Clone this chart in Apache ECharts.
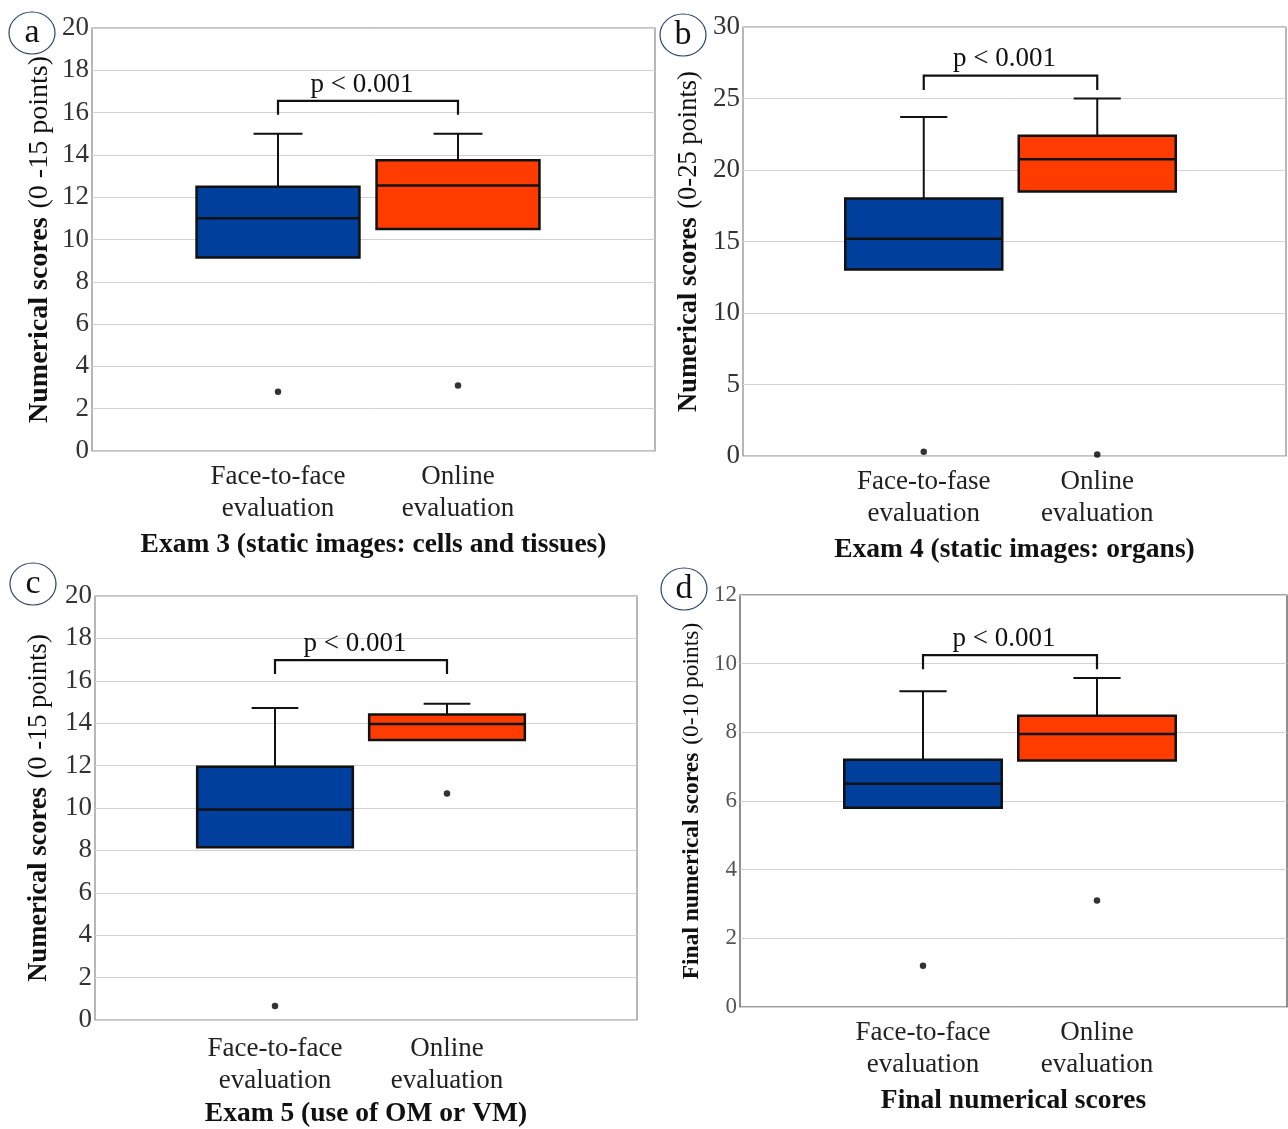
<!DOCTYPE html>
<html>
<head>
<meta charset="utf-8">
<script src="https://cdn.jsdelivr.net/npm/echarts@6/dist/echarts.min.js"></script>
<style>
html,body{margin:0;padding:0;background:#fff;}
#main{width:1288px;height:1129px;}
</style>
</head>
<body>
<div id="main"></div>
<script>
// ---------------- DATA ----------------
// Panel a – Exam 3
const a_categories = ['Face-to-face\nevaluation', 'Online\nevaluation'];
const a_q1 = [9.15, 10.5];
const a_median = [11.0, 12.55];
const a_q3 = [12.5, 13.75];
const a_upperWhisker = [15.0, 15.0];
const a_outliers = [2.8, 3.1];
const a_bracket = [15.9, 16.55];

// Panel b – Exam 4
const b_categories = ['Face-to-fase\nevaluation', 'Online\nevaluation'];
const b_q1 = [13.05, 18.5];
const b_median = [15.2, 20.75];
const b_q3 = [18.0, 22.4];
const b_upperWhisker = [23.7, 25.0];
const b_outliers = [0.3, 0.1];
const b_bracket = [25.6, 26.6];

// Panel c – Exam 5
const c_categories = ['Face-to-face\nevaluation', 'Online\nevaluation'];
const c_q1 = [8.23, 13.25];
const c_median = [10.0, 14.0];
const c_q3 = [12.0, 14.45];
const c_upperWhisker = [14.75, 14.95];
const c_outliers = [0.8, 10.75];
const c_bracket = [16.35, 17.0];

// Panel d – Final scores
const d_categories = ['Face-to-face\nevaluation', 'Online\nevaluation'];
const d_q1 = [5.8, 7.18];
const d_median = [6.5, 7.95];
const d_q3 = [7.2, 8.48];
const d_upperWhisker = [9.2, 9.58];
const d_outliers = [1.2, 3.1];
const d_bracket = [9.84, 10.25];

const pText = 'p < 0.001';
const boxColors = ['#003f9c', '#ff3c00'];

// ---------------- LAYOUT / STYLE ----------------
const FONT = '"Liberation Serif","Times New Roman",serif';

const panels = [
  { letter: 'a', cats: a_categories, q1: a_q1, med: a_median, q3: a_q3, wh: a_upperWhisker, out: a_outliers, br: a_bracket,
    yMax: 20, yInt: 2, yTitleB: 'Numerical scores', yTitleN: '(0 -15 points)', xTitle: 'Exam 3 (static images: cells and tissues)',
    frame: {left: 92, top: 28, width: 563, height: 423}, data: {left: 188, width: 360},
    border: '#888', tickSize: 27, tickColor: '#333', titleSize: 28, nameGap: 38, circle: [32, 33] },
  { letter: 'b', cats: b_categories, q1: b_q1, med: b_median, q3: b_q3, wh: b_upperWhisker, out: b_outliers, br: b_bracket,
    yMax: 30, yInt: 5, yTitleB: 'Numerical scores', yTitleN: '(0-25 points)', xTitle: 'Exam 4 (static images: organs)',
    frame: {left: 743, top: 27, width: 543, height: 429}, data: {left: 837, width: 347},
    border: '#888', tickSize: 27, tickColor: '#333', titleSize: 26.5, nameGap: 40, circle: [683, 35] },
  { letter: 'c', cats: c_categories, q1: c_q1, med: c_median, q3: c_q3, wh: c_upperWhisker, out: c_outliers, br: c_bracket,
    yMax: 20, yInt: 2, yTitleB: 'Numerical scores', yTitleN: '(0 -15 points)', xTitle: 'Exam 5 (use of OM or VM)',
    frame: {left: 95, top: 596, width: 542, height: 427}, data: {left: 189, width: 344},
    border: '#888', tickSize: 27, tickColor: '#333', titleSize: 26.5, nameGap: 42, circle: [33, 584] },
  { letter: 'd', cats: d_categories, q1: d_q1, med: d_median, q3: d_q3, wh: d_upperWhisker, out: d_outliers, br: d_bracket,
    yMax: 12, yInt: 2, yTitleB: 'Final numerical scores', yTitleN: '(0-10 points)', xTitle: 'Final numerical scores',
    frame: {left: 740, top: 595, width: 547, height: 412}, data: {left: 836, width: 348},
    border: '#444', tickSize: 23, tickColor: '#555', titleSize: 23.5, nameGap: 36, circle: [684, 589] }
];

const grid = [], xAxis = [], yAxis = [], series = [], graphic = [];

function boxRender(params, api) {
  const x = api.value(0);
  const pQ1 = api.coord([x, api.value(1)]);
  const pMed = api.coord([x, api.value(2)]);
  const pQ3 = api.coord([x, api.value(3)]);
  const pWh = api.coord([x, api.value(4)]);
  const band = api.size([1, 0])[0];
  const bw = band * 0.905, cw = bw * 0.3, cx = pMed[0];
  const ls = {stroke: '#111', lineWidth: 2};
  return {
    type: 'group',
    children: [
      {type: 'line', shape: {x1: cx, y1: pQ3[1], x2: cx, y2: pWh[1]}, style: ls},
      {type: 'line', shape: {x1: cx - cw / 2, y1: pWh[1], x2: cx + cw / 2, y2: pWh[1]}, style: ls},
      {type: 'rect', shape: {x: cx - bw / 2, y: pQ3[1], width: bw, height: pQ1[1] - pQ3[1]},
       style: {fill: boxColors[params.dataIndex], stroke: '#111', lineWidth: 2.5}},
      {type: 'line', shape: {x1: cx - bw / 2, y1: pMed[1], x2: cx + bw / 2, y2: pMed[1]}, style: {stroke: '#111', lineWidth: 2.5}}
    ]
  };
}

function bracketRender(params, api) {
  const p0 = api.coord([api.value(0), api.value(2)]);
  const p1 = api.coord([api.value(0), api.value(3)]);
  const p2 = api.coord([api.value(1), api.value(3)]);
  const p3 = api.coord([api.value(1), api.value(2)]);
  return {
    type: 'group',
    children: [
      {type: 'polyline', shape: {points: [p0, p1, p2, p3]}, style: {stroke: '#111', lineWidth: 2.2, fill: null}},
      {type: 'text', x: (p1[0] + p2[0]) / 2 - 6, y: p1[1] - 3,
       style: {text: pText, font: '27px ' + FONT, fill: '#111', align: 'center', verticalAlign: 'bottom'}}
    ]
  };
}

panels.forEach((p, i) => {
  const gF = 2 * i, gD = 2 * i + 1;
  grid.push({left: p.frame.left, top: p.frame.top, width: p.frame.width, height: p.frame.height,
             show: true, borderColor: p.border, borderWidth: 1.2, backgroundColor: 'transparent'});
  grid.push({left: p.data.left, top: p.frame.top, width: p.data.width, height: p.frame.height});

  // frame axes
  xAxis.push({gridIndex: gF, type: 'category', data: [''], axisLine: {show: false}, axisTick: {show: false},
    axisLabel: {show: false}, name: p.xTitle, nameLocation: 'middle', nameGap: 80,
    nameTextStyle: {fontFamily: FONT, fontWeight: 'bold', fontSize: 27.5, color: '#111'}});
  yAxis.push({gridIndex: gF, type: 'value', min: 0, max: p.yMax, interval: p.yInt,
    axisLine: {show: false}, axisTick: {show: false},
    axisLabel: {fontFamily: FONT, fontSize: p.tickSize, color: p.tickColor, margin: 3},
    splitLine: {lineStyle: {color: '#d2d2d2', width: 1}},
    name: '{b|' + p.yTitleB + '} {n|(' + p.yTitleN.slice(1) + '}', nameLocation: 'middle', nameRotate: 90, nameGap: p.nameGap,
    nameTextStyle: {color: '#111', fontFamily: FONT, fontSize: p.titleSize, rich: {
      b: {fontFamily: FONT, fontWeight: 'bold', fontSize: p.titleSize, color: '#111'},
      n: {fontFamily: FONT, fontSize: p.titleSize, color: '#111', padding: [0, 0, 0, 2]}}}});

  // data axes
  xAxis.push({gridIndex: gD, type: 'category', data: p.cats, boundaryGap: true,
    axisLine: {show: false}, axisTick: {show: false},
    axisLabel: {fontFamily: FONT, fontSize: 27, lineHeight: 32, color: '#222', margin: 10, interval: 0}});
  yAxis.push({gridIndex: gD, type: 'value', min: 0, max: p.yMax, interval: p.yInt, show: false, splitLine: {show: false}});

  series.push({
    type: 'custom', xAxisIndex: gD, yAxisIndex: gD, renderItem: boxRender,
    encode: {x: 0, y: [1, 2, 3, 4]},
    data: p.cats.map((c, k) => [k, p.q1[k], p.med[k], p.q3[k], p.wh[k]]),
    z: 3
  });
  series.push({
    type: 'scatter', xAxisIndex: gD, yAxisIndex: gD, symbolSize: 6.5, itemStyle: {color: '#000'},
    data: p.out.map((v, k) => [k, v]), z: 4
  });
  series.push({
    type: 'custom', xAxisIndex: gD, yAxisIndex: gD, renderItem: bracketRender,
    encode: {x: [0, 1], y: [2, 3]},
    data: [[0, 1, p.br[0], p.br[1]]], z: 4
  });

  graphic.push({type: 'ellipse', shape: {cx: p.circle[0], cy: p.circle[1], rx: 23, ry: 21},
    style: {fill: '#fff', stroke: '#2b4566', lineWidth: 1.2}, z: 10});
  graphic.push({type: 'text', x: p.circle[0], y: p.circle[1],
    style: {text: p.letter, font: '34px ' + FONT, fill: '#111', align: 'center', verticalAlign: 'middle'}, z: 11});
});

const chart = echarts.init(document.getElementById('main'), null, {renderer: 'canvas'});
chart.setOption({
  backgroundColor: '#fff',
  animation: false,
  grid, xAxis, yAxis, series, graphic
});
</script>
</body>
</html>
